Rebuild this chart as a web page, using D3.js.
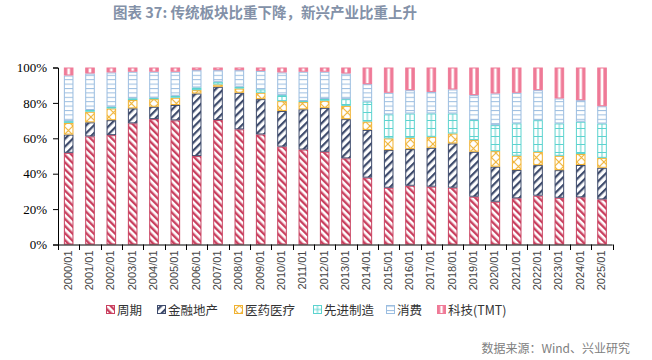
<!DOCTYPE html>
<html><head><meta charset="utf-8">
<script src="https://cdn.jsdelivr.net/npm/d3@7/dist/d3.min.js"></script>
<style>body{margin:0;background:#fff}svg{display:block}</style>
</head><body><svg id="c" width="652" height="360"></svg>
<script>
const categories = ["2000/01","2001/01","2002/01","2003/01","2004/01","2005/01","2006/01","2007/01","2008/01","2009/01","2010/01","2011/01","2012/01","2013/01","2014/01","2015/01","2016/01","2017/01","2018/01","2019/01","2020/01","2021/01","2022/01","2023/01","2024/01","2025/01"];
const cyclical = [51.8,61.3,61.9,68.5,70.9,70.2,50.0,70.3,65.1,62.3,55.3,53.8,52.4,48.7,37.7,32.1,33.2,32.7,32.1,27.0,24.2,26.1,27.6,26.4,26.7,25.5];
const finance  = [10.3,8.0,8.5,8.5,7.0,8.7,35.4,18.8,20.7,20.0,20.1,22.8,24.8,22.2,26.9,21.3,20.7,22.0,25.0,25.4,19.8,16.0,17.3,15.6,18.3,17.9];
const medical  = [6.6,6.0,6.6,4.7,4.3,4.1,1.9,1.3,2.4,3.6,5.6,4.1,4.0,7.5,4.7,6.6,6.4,6.2,5.6,6.6,8.8,8.1,7.5,8.1,6.2,5.6];
const advanced = [1.0,1.0,1.0,1.0,0.8,1.1,1.5,1.5,1.0,1.9,3.4,0.6,1.0,3.8,11.3,13.6,13.7,13.2,11.3,11.3,14.7,18.3,17.9,18.3,18.3,19.4];
const consumer = [25.8,20.7,19.4,15.0,14.7,13.6,9.8,6.6,9.4,10.5,12.8,16.6,15.4,14.5,9.8,12.2,13.2,12.2,13.6,14.1,17.9,17.3,17.0,14.1,12.2,9.8];
const tmt      = [4.5,3.4,2.8,2.4,2.4,2.4,1.5,1.5,1.5,1.9,2.8,2.4,2.4,3.4,9.4,14.3,12.8,13.8,12.4,15.6,14.7,14.3,12.8,17.5,18.5,21.9];
const seriesNames = ["周期","金融地产","医药医疗","先进制造","消费","科技(TMT)"];
const seriesValues = [cyclical, finance, medical, advanced, consumer, tmt];
const yTicks = [0,0.2,0.4,0.6,0.8,1.0];

const colors = ["#c9405f","#3e4b6c","#f0b232","#5cd3cf","#9bbde0","#ef7a97"];

const svg = d3.select("#c");
const defs = svg.append("defs");

const table = categories.map((c,i)=>{const o={cat:c}; seriesNames.forEach((s,j)=>o[s]=seriesValues[j][i]); return o;});
const stack = d3.stack().keys(seriesNames).offset(d3.stackOffsetExpand)(table);

const x = d3.scaleBand().domain(categories).range([58,612.7]).paddingInner(0.55).paddingOuter(0.275);
const y = d3.scaleLinear().domain([0,1]).range([244.5,67.5]);
const step = x.step(), bw = x.bandwidth(), x0 = x(categories[0]);

// patterns
function stripe(id,color,angle,period,thick){
  const p = defs.append("pattern").attr("id",id).attr("patternUnits","userSpaceOnUse")
    .attr("width",period).attr("height",period).attr("patternTransform",`rotate(${angle})`);
  p.append("rect").attr("width",period).attr("height",period).attr("fill","#fff");
  p.append("rect").attr("width",thick).attr("height",period).attr("fill",color);
}
stripe("p0",colors[0],-45,5,2.4);
stripe("p1",colors[1],45,5.5,2.2);
{ const p = defs.append("pattern").attr("id","p2").attr("patternUnits","userSpaceOnUse").attr("width",9).attr("height",9).attr("x",x0);
  p.append("rect").attr("width",9).attr("height",9).attr("fill","#fff");
  p.append("path").attr("d","M0,0L9,9M9,0L0,9").attr("stroke",colors[2]).attr("stroke-width",1.1);
}
{ const p = defs.append("pattern").attr("id","p3").attr("patternUnits","userSpaceOnUse").attr("width",step).attr("height",8).attr("x",x0);
  p.append("rect").attr("width",step).attr("height",8).attr("fill","#fff");
  p.append("path").attr("d",`M0,0.5H${step}M${bw/2},0V8`).attr("stroke",colors[3]).attr("stroke-width",1);
}
{ const p = defs.append("pattern").attr("id","p4").attr("patternUnits","userSpaceOnUse").attr("width",4.4).attr("height",4.4);
  p.append("rect").attr("width",4.4).attr("height",4.4).attr("fill","#fff");
  p.append("path").attr("d","M0,0.5H4.4").attr("stroke",colors[4]).attr("stroke-width",1);
}
{ const p = defs.append("pattern").attr("id","p5").attr("patternUnits","userSpaceOnUse").attr("width",step).attr("height",10).attr("x",x0);
  p.append("rect").attr("width",step).attr("height",10).attr("fill","#fff");
  p.append("rect").attr("width",bw*0.36).attr("height",10).attr("fill",colors[5]);
  p.append("rect").attr("x",bw*0.64).attr("width",bw*0.36).attr("height",10).attr("fill",colors[5]);
}
// legend-only patterns (bounding-box based)
{ const p = defs.append("pattern").attr("id","l3").attr("patternUnits","objectBoundingBox").attr("patternContentUnits","objectBoundingBox").attr("width",1).attr("height",1);
  p.append("rect").attr("width",1).attr("height",1).attr("fill","#fff");
  p.append("path").attr("d","M0.5,0V1M0,0.5H1").attr("stroke",colors[3]).attr("stroke-width",0.12);
}
{ const p = defs.append("pattern").attr("id","l5").attr("patternUnits","objectBoundingBox").attr("patternContentUnits","objectBoundingBox").attr("width",1).attr("height",1);
  p.append("rect").attr("width",1).attr("height",1).attr("fill","#fff");
  p.append("rect").attr("width",0.35).attr("height",1).attr("fill",colors[5]);
  p.append("rect").attr("x",0.65).attr("width",0.35).attr("height",1).attr("fill",colors[5]);
}

// bars
stack.forEach((layer,j)=>{
  svg.append("g").selectAll("rect").data(layer).join("rect")
    .attr("x",d=>x(d.data.cat)+0.5).attr("width",bw-1)
    .attr("y",d=>y(d[1])+0.5).attr("height",d=>Math.max(0,y(d[0])-y(d[1])-1))
    .attr("fill",`url(#p${j})`).attr("stroke",colors[j]).attr("stroke-width",1);
});

// y axis
const ya = svg.append("g").attr("transform","translate(58,0)")
  .call(d3.axisLeft(y).tickValues(yTicks).tickFormat(d3.format(".0%")).tickSize(5).tickPadding(6));
ya.select(".domain").attr("stroke","#000");
ya.selectAll(".tick line").attr("stroke","#000");
ya.selectAll("text").attr("font-family","'Liberation Serif',serif").attr("font-size",13).attr("fill","#000");

// x axis
const xa = svg.append("g").attr("transform","translate(0,244.5)")
  .call(d3.axisBottom(x).tickSize(0).tickPadding(0));
xa.select(".domain").attr("d","M58,0.5H612.7").attr("stroke","#000");
xa.selectAll(".tick text").attr("font-family","'Liberation Sans',Arial,sans-serif").attr("font-size",11).attr("fill","#444")
  .attr("transform","translate(3,6) rotate(-90)").attr("text-anchor","end").attr("dy","0");
svg.append("g").selectAll("line").data(d3.range(categories.length+1)).join("line")
  .attr("x1",i=>Math.round(58+i*step)+0.5).attr("x2",i=>Math.round(58+i*step)+0.5)
  .attr("y1",244.5).attr("y2",250).attr("stroke","#000");

// legend
const legX = [106,157,234,313,386,437];
const legFill = ["url(#p0)","url(#p1)","url(#p2)","url(#l3)","url(#p4)","url(#l5)"];
const lg = svg.append("g").attr("transform","translate(0,310)");
seriesNames.forEach((s,j)=>{
  lg.append("rect").attr("x",legX[j]+0.5).attr("y",-4.5).attr("width",8).attr("height",8)
    .attr("fill",legFill[j]).attr("stroke",colors[j]);
  lg.append("text").attr("x",legX[j]+11).attr("y",4.5).text(s)
    .attr("font-family","'Noto Sans CJK SC',sans-serif").attr("font-size",12.5).attr("fill","#333");
});

// title
svg.append("text").attr("x",113).attr("y",18).text("图表 37: 传统板块比重下降，新兴产业比重上升")
  .attr("font-family","'Noto Sans CJK SC',sans-serif").attr("font-weight","bold").attr("font-size",14.5).attr("fill","#8391a8");

// source
svg.append("text").attr("x",630).attr("y",353).attr("text-anchor","end").text("数据来源：Wind、兴业研究")
  .attr("font-family","'Noto Sans CJK SC',sans-serif").attr("font-size",12).attr("fill","#808080");
</script></body></html>
